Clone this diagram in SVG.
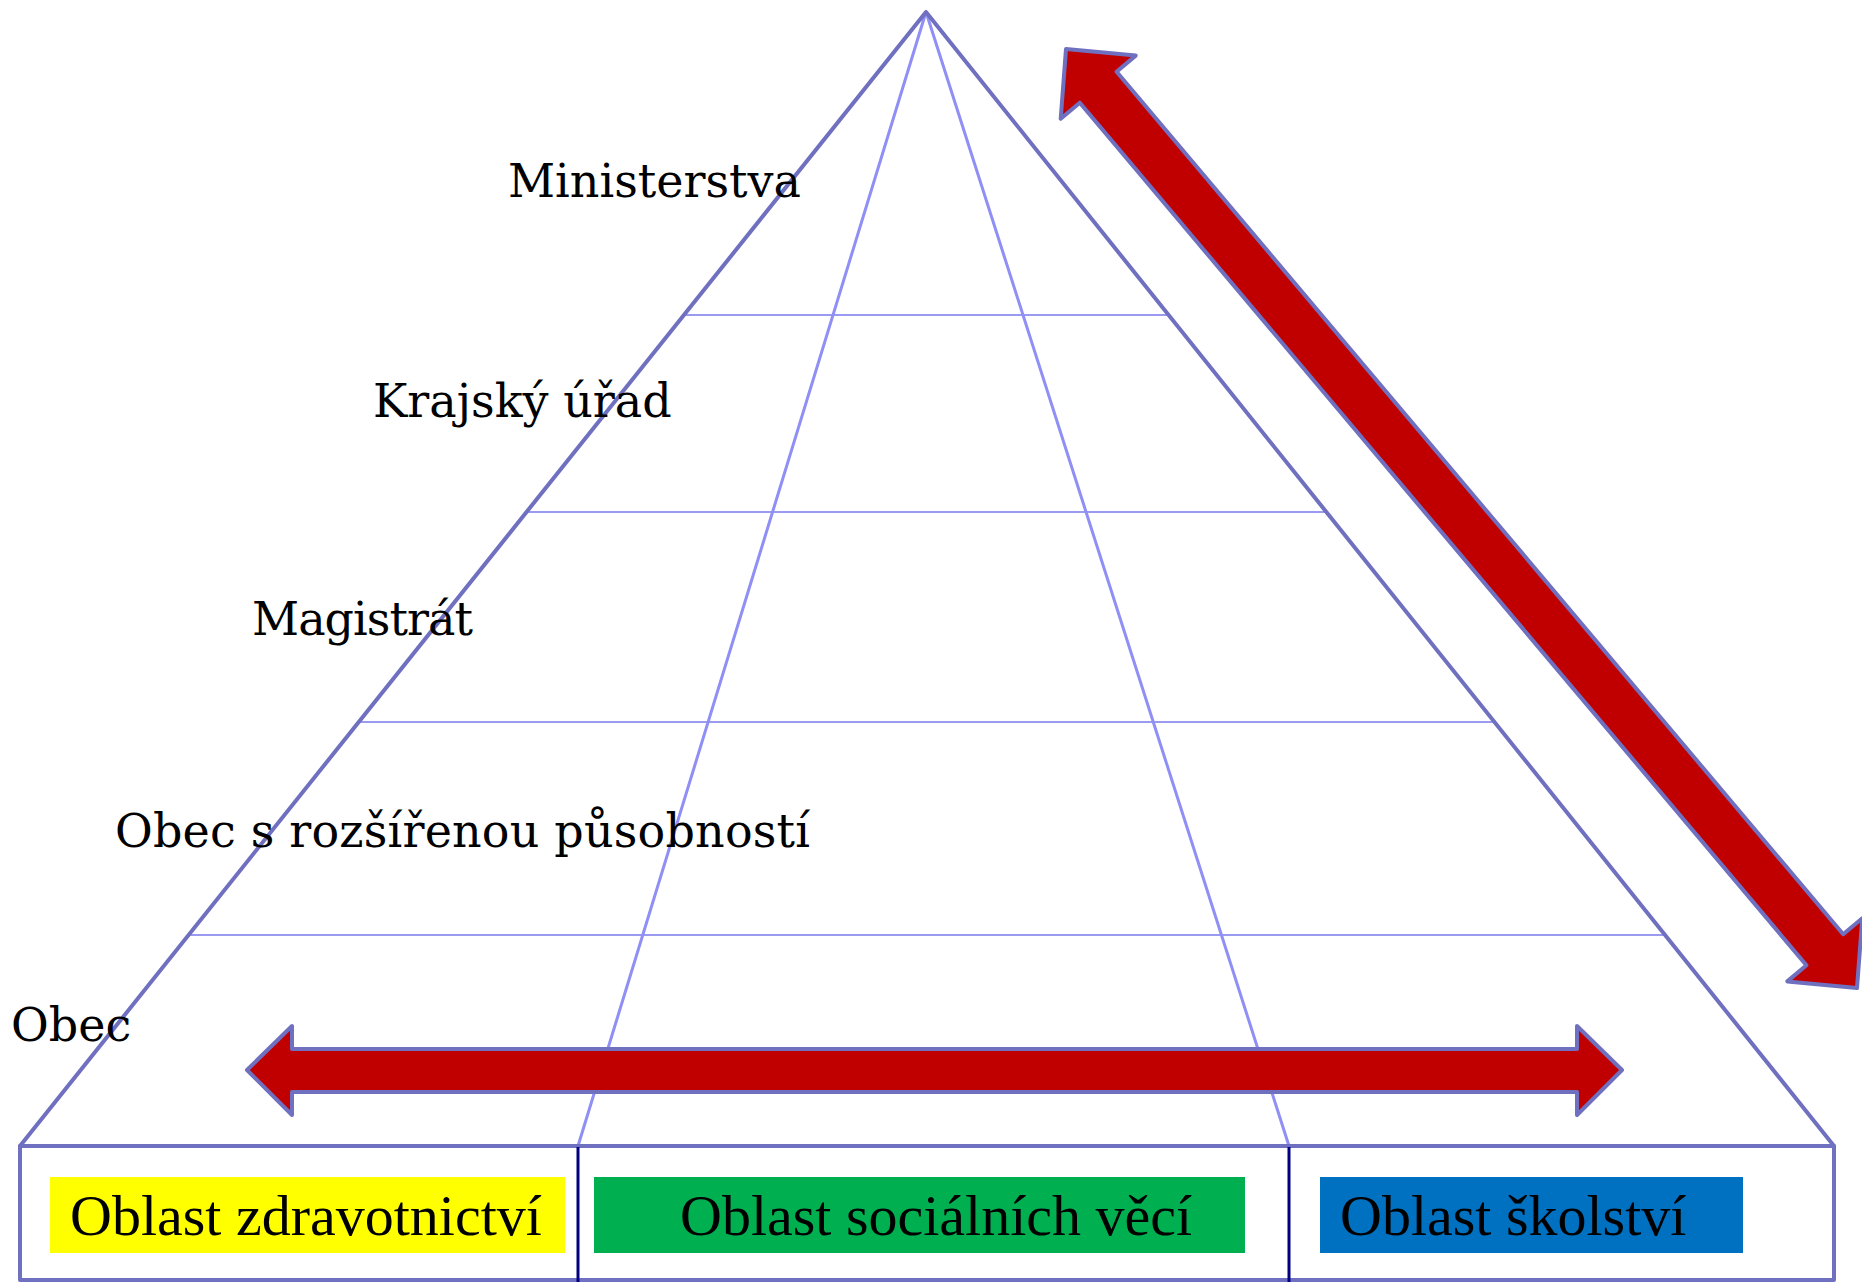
<svg xmlns="http://www.w3.org/2000/svg" width="1862" height="1282" viewBox="0 0 1862 1282">
<style>
.edge{fill:none;stroke:#7070c0;stroke-width:4;stroke-linejoin:round;stroke-linecap:round}
.inner{fill:none;stroke:#8f8ff5;stroke-width:3;stroke-linecap:round}
.level{fill:none;stroke:#9a9af0;stroke-width:2}
.div{stroke:#000080;stroke-width:3}
.arrow{fill:#c00000;stroke:#7070c0;stroke-width:4;stroke-linejoin:round}
.lbl{font-family:"DejaVu Serif",serif;font-size:46px;fill:#000}
.area{font-family:"Liberation Serif",serif;font-size:58px;fill:#000}
</style>
<rect width="1862" height="1282" fill="#fff"/>
<g id="pyramid">
<line class="level" x1="684" y1="315" x2="1169" y2="315"/>
<line class="level" x1="527" y1="512" x2="1327" y2="512"/>
<line class="level" x1="359" y1="722" x2="1495" y2="722"/>
<line class="level" x1="189" y1="935" x2="1666" y2="935"/>
<line class="inner" x1="926" y1="12" x2="578" y2="1146"/>
<line class="inner" x1="926" y1="12" x2="1289" y2="1146"/>
<polyline class="edge" points="20,1146 926,12 1834,1146"/>
</g>
<g id="areas">
<rect x="20" y="1146" width="1814" height="134" class="edge"/>
<line class="div" x1="578" y1="1147" x2="578" y2="1282"/>
<line class="div" x1="1289" y1="1147" x2="1289" y2="1282"/>
</g>
<g id="node-zdravotnictvi">
<rect x="50" y="1177" width="515" height="76" fill="#ffff00"/>
<text class="area" x="70" y="1235">Oblast zdravotnictví</text>
</g>
<g id="node-socialni">
<rect x="594" y="1177" width="651" height="76" fill="#00b050"/>
<text class="area" x="680" y="1235">Oblast sociálních věcí</text>
</g>
<g id="node-skolstvi">
<rect x="1320" y="1177" width="423" height="76" fill="#0070c0"/>
<text class="area" x="1340" y="1235">Oblast školství</text>
</g>
<g id="node-ministerstva"><text class="lbl" x="508" y="197">Ministerstva</text></g>
<g id="node-kraj"><text class="lbl" x="373" y="417">Krajský úřad</text></g>
<g id="node-magistrat"><text class="lbl" x="252" y="635" textLength="221">Magistrát</text></g>
<g id="node-orp"><text class="lbl" x="115" y="847" textLength="695">Obec s rozšířenou působností</text></g>
<g id="node-obec"><text class="lbl" x="11" y="1041">Obec</text></g>
<g id="connectors">
<polygon class="arrow" points="247,1070 292,1026 292,1049 1577,1049 1577,1026 1622,1070 1577,1115 1577,1092 292,1092 292,1115"/>
<polygon class="arrow" points="1066,49 1135.7,55.6 1116.6,71.7 1843.2,934.3 1862.3,918.2 1857,988 1787.3,981.4 1806.4,965.3 1079.8,102.7 1060.7,118.8"/>
</g>
</svg>
